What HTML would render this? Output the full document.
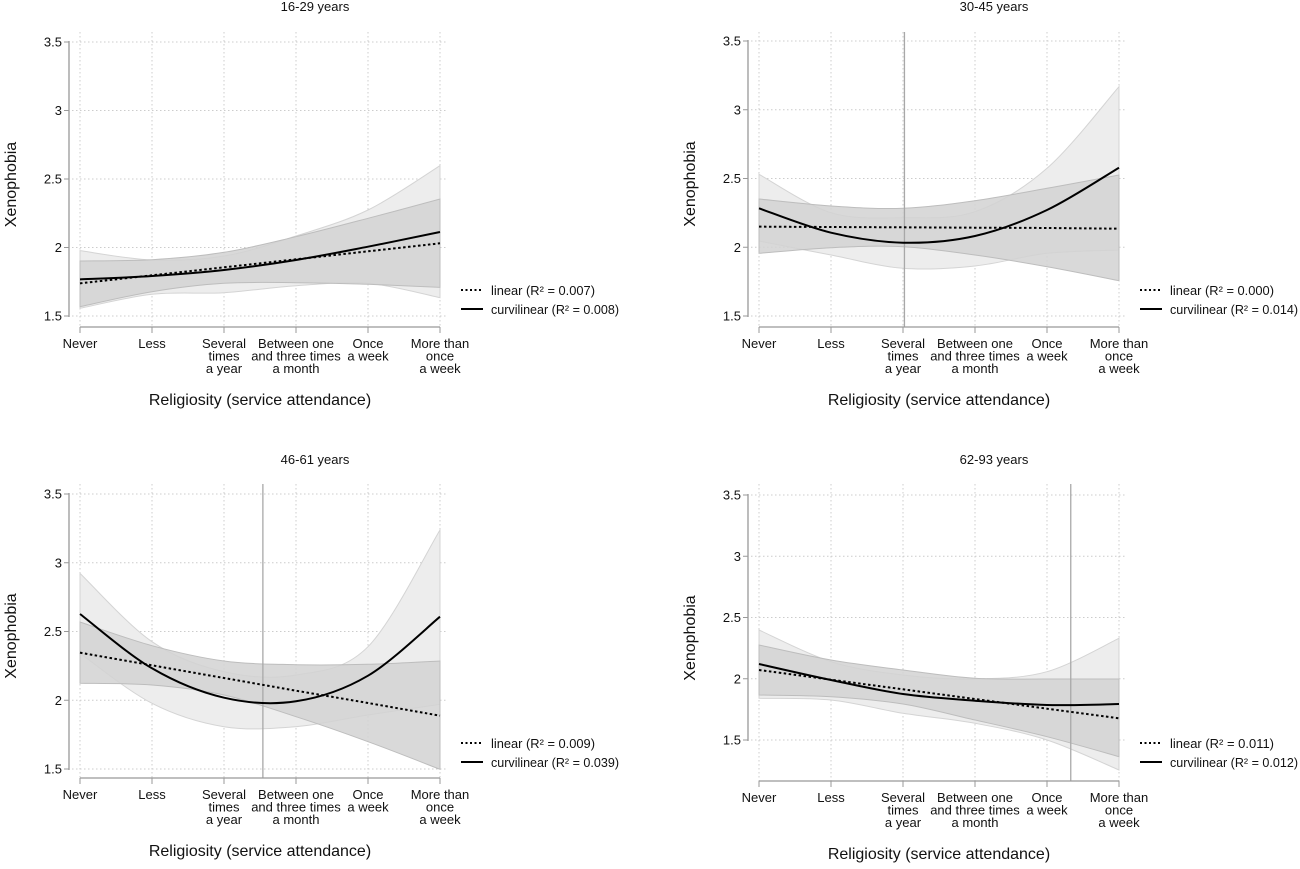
<!DOCTYPE html>
<html><head><meta charset="utf-8"><style>
body{margin:0;background:#fff}
svg text{font-family:"Liberation Sans",sans-serif;fill:#111}
</style></head><body>
<svg id="s" width="1300" height="864" xmlns="http://www.w3.org/2000/svg"></svg>
<script>
const S=document.getElementById('s');let h='';
function cr(pts){let d='M'+pts[0][0]+','+pts[0][1];for(let i=0;i<pts.length-1;i++){const p0=pts[Math.max(0,i-1)],p1=pts[i],p2=pts[i+1],p3=pts[Math.min(pts.length-1,i+2)];
const c1=[p1[0]+(p2[0]-p0[0])/6,p1[1]+(p2[1]-p0[1])/6],c2=[p2[0]-(p3[0]-p1[0])/6,p2[1]-(p3[1]-p1[1])/6];
d+=' C'+c1[0].toFixed(1)+','+c1[1].toFixed(1)+' '+c2[0].toFixed(1)+','+c2[1].toFixed(1)+' '+p2[0].toFixed(1)+','+p2[1].toFixed(1);}return d;}
function crRev(pts){return cr(pts.slice().reverse()).replace('M','L');}
const cats=[["Never"],["Less"],["Several","times","a year"],["Between one","and three times","a month"],["Once","a week"],["More than","once","a week"]];
function panel(o){
 const L=o.L,x0=L+80,dx=72,px=i=>x0+i*dx,py=z=>o.oy+z/3;
 const yv=v=>o.y15-(v-1.5)*(o.y15-o.y35)/2;
 h+=`<text x="${L+315}" y="${o.T+11}" font-size="13" text-anchor="middle">${o.title}</text>`;
 for(let v=1.5;v<=3.51;v+=0.5){const y=yv(v);h+=`<line x1="${L+72}" x2="${L+448}" y1="${y}" y2="${y}" stroke="#ccc" stroke-dasharray="1.5,2.5"/>`;
  h+=`<line x1="${L+64}" x2="${L+69}" y1="${y}" y2="${y}" stroke="#999"/><text x="${L+62}" y="${y+4.5}" font-size="13" text-anchor="end">${v}</text>`;}
 for(let i=0;i<6;i++)h+=`<line x1="${px(i)}" x2="${px(i)}" y1="${o.gt}" y2="${o.xa}" stroke="#ccc" stroke-dasharray="1.5,2.5"/>`;
 const P=a=>a.map((z,i)=>[px(i),py(z)]);
 const cu=P(o.cu),cl=P(o.cl),lu=P(o.lu),ll=P(o.ll);
 h+=`<path d="${cr(cu)} ${crRev(cl)} Z" fill="#ededed" stroke="#d4d4d4" stroke-width="1"/>`;
 h+=`<path d="${cr(lu)} ${crRev(ll)} Z" fill="#d2d2d2" fill-opacity="0.85" stroke="#bdbdbd" stroke-width="1"/>`;
 if(o.vl!=null){const x=px(o.vl);h+=`<line x1="${x}" x2="${x}" y1="${o.gt}" y2="${o.xa}" stroke="#a8a8a8" stroke-width="1.3"/>`;}
 h+=`<path d="${cr(P(o.lin))}" fill="none" stroke="#000" stroke-width="2" stroke-dasharray="2.5,2.5"/>`;
 h+=`<path d="${cr(P(o.cur))}" fill="none" stroke="#000" stroke-width="2"/>`;
 h+=`<line x1="${L+69}" x2="${L+69}" y1="${yv(3.5)-1}" y2="${yv(1.5)+1}" stroke="#999" stroke-width="1.3"/>`;
 h+=`<line x1="${px(0)}" x2="${px(5)}" y1="${o.xa}" y2="${o.xa}" stroke="#999" stroke-width="1.3"/>`;
 for(let i=0;i<6;i++){h+=`<line x1="${px(i)}" x2="${px(i)}" y1="${o.xa}" y2="${o.xa+6}" stroke="#999"/>`;
  cats[i].forEach((t,k)=>h+=`<text x="${px(i)}" y="${o.xa+21+k*12.5}" font-size="13" text-anchor="middle">${t}</text>`);}
 h+=`<text x="${L+260}" y="${o.xa+78}" font-size="16" text-anchor="middle">Religiosity (service attendance)</text>`;
 const yc=(yv(3.5)+o.xa)/2;
 h+=`<text transform="translate(${L+16},${yc}) rotate(-90)" font-size="16" text-anchor="middle">Xenophobia</text>`;
 h+=`<line x1="${L+461}" x2="${L+483}" y1="${o.lg}" y2="${o.lg}" stroke="#000" stroke-width="2" stroke-dasharray="2,2.5"/><text x="${L+491}" y="${o.lg+5}" font-size="13" textLength="104" lengthAdjust="spacingAndGlyphs">linear (R² = ${o.r1})</text>`;
 h+=`<line x1="${L+461}" x2="${L+483}" y1="${o.lg+19}" y2="${o.lg+19}" stroke="#000" stroke-width="2"/><text x="${L+491}" y="${o.lg+24}" font-size="13" textLength="128" lengthAdjust="spacingAndGlyphs">curvilinear (R² = ${o.r2})</text>`;
}
panel({L:0,T:0,oy:0,y35:42,y15:316,xa:327,gt:32,lg:290,title:"16-29 years",r1:"0.007",r2:"0.008",
 lin:[850,826,802,778,754,730],cur:[838,828,810,780,740,696],
 lu:[783,779,757,710,655,597],ll:[920,875,850,848,853,862],
 cu:[752,780,768,708,630,497],cl:[925,883,878,857,850,893]});
panel({L:679,T:0,oy:20,y35:41,y15:316,xa:327,gt:32,lg:290,title:"30-45 years",r1:"0.000",r2:"0.014",vl:2.02,
 lin:[620,621,622,623,624,626],cur:[565,638,668,648,570,443],
 lu:[537,558,565,542,505,465],ll:[700,683,680,705,740,782],
 cu:[463,578,593,575,445,200],cl:[663,705,745,738,700,690]});
panel({L:0,T:453,oy:470,y35:494,y15:769,xa:778,gt:484,lg:743,title:"46-61 years",r1:"0.009",r2:"0.039",vl:2.54,
 lin:[548,586,624,662,699,737],cur:[432,595,683,694,617,440],
 lu:[456,527,573,584,583,573],ll:[640,645,675,740,815,898],
 cu:[310,515,605,615,530,180],cl:[550,700,770,770,735,703]});
panel({L:679,T:453,oy:440,y35:495,y15:740,xa:781,gt:484,lg:743,title:"62-93 years",r1:"0.011",r2:"0.012",vl:4.33,
 lin:[690,719,748,777,806,835],cur:[672,720,762,782,795,792],
 lu:[615,660,690,715,717,717],ll:[765,770,792,840,890,950],
 cu:[570,665,705,717,695,595],cl:[775,780,820,850,900,990]});
S.innerHTML=h;
</script>
</body></html>
